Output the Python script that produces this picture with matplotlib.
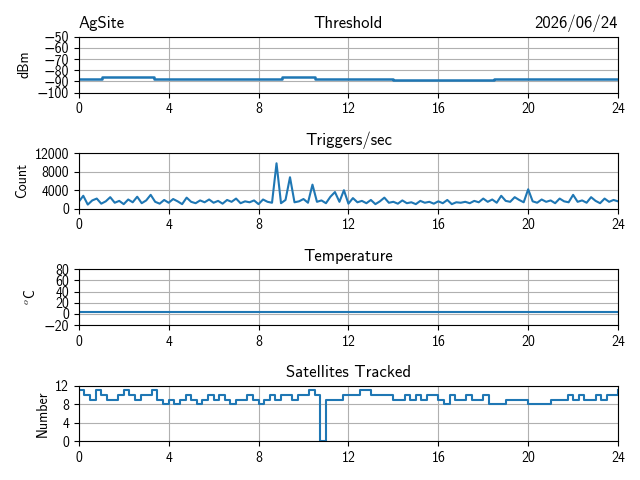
import numpy as np
import matplotlib
matplotlib.use("Agg")
from matplotlib import pyplot as plt

plt.rcParams['font.family'] = ['cmss10', 'DejaVu Sans']
plt.rcParams['mathtext.fontset'] = 'cm'
plt.rcParams['axes.unicode_minus'] = True

# threshold (dBm), hours
thr_t = [0, 1, 1.05, 3.3, 3.35, 6, 9, 9.05, 10.3, 10.5, 11, 14, 18, 18.5, 24]
thr_v = [-88, -88, -86, -86, -88, -88, -88, -86, -86, -88, -88, -89, -89, -88, -88]

# triggers/sec, every 0.2 h
trig = [1500, 2800, 900, 1800, 2200, 1100, 1600, 2500, 1300, 1700, 1000, 2000, 1400, 2600, 1200, 1800,
        3000, 1500, 1100, 1900, 1300, 2100, 1600, 1000, 2400, 1500, 1200, 1800, 1400, 2000,
        1300, 1700, 1100, 1900, 1500, 2200, 1200, 1600, 1400, 1800, 1000, 2000, 1500, 1300, 9800,
        1200, 1900, 6800, 1400, 1600, 2100, 1300, 5200, 1500, 1800, 1200, 2600, 3600, 1500, 4000,
        1100, 2300, 1400, 1700, 1200, 1900, 1000, 1600, 2400, 1300, 1500, 1100, 1800, 1200, 1400,
        1000, 1700, 1300, 1500, 1100, 1600, 1200, 1900, 1000, 1400, 1300, 1500, 1200, 1700, 1400,
        2200, 1500, 2000, 1300, 2800, 1700, 1500, 2500, 1900, 1400, 4200, 1600, 1300, 2000, 1500,
        1800, 1200, 2200, 1600, 1400, 3000, 1500, 1800, 1300, 2500, 1700, 1200, 2200, 1500, 1900, 1600]
trig_t = np.linspace(0, 24, len(trig))

# temperature (C)
temp_t = [0, 24]
temp_v = [3, 3]

# satellites tracked, every 0.25 h
sats = [11, 10, 9, 11, 10, 9, 9, 10, 11, 10, 9, 10, 10, 11, 9, 8, 9, 8, 9, 10, 9, 8, 9, 10,
        9, 10, 9, 8, 9, 9, 10, 9, 8, 9, 10, 9, 10, 10, 9, 10, 10, 11, 10, 0, 9, 9, 9, 10, 10,
        10, 11, 11, 10, 10, 10, 10, 9, 9, 10, 9, 10, 9, 10, 10, 9, 8, 10, 9, 9, 10, 9, 9, 10, 8,
        8, 8, 9, 9, 9, 9, 8, 8, 8, 8, 9, 9, 9, 10, 9, 10, 9, 9, 10, 9, 10, 10, 11]
sats_t = np.linspace(0, 24, len(sats))

c = '#1f77b4'
xt = [0, 4, 8, 12, 16, 20, 24]
fig, axs = plt.subplots(4, 1, figsize=(6.4, 4.8))

ax = axs[0]
ax.step(thr_t, thr_v, where='post', color=c, lw=1.8)
ax.set_ylim(-100, -50)
ax.set_yticks([-100, -90, -80, -70, -60, -50])
ax.set_ylabel('dBm')
ax.set_title('Threshold')
ax.set_title('AgSite', loc='left')
ax.set_title('2026/06/24', loc='right')

ax = axs[1]
ax.plot(trig_t, trig, color=c, lw=1.5)
ax.set_ylim(0, 12000)
ax.set_yticks([0, 4000, 8000, 12000])
ax.set_ylabel('Count')
ax.set_title('Triggers/sec')

ax = axs[2]
ax.plot(temp_t, temp_v, color=c, lw=1.5)
ax.set_ylim(-20, 80)
ax.set_yticks([-20, 0, 20, 40, 60, 80])
ax.set_ylabel(r'$^o$C')
ax.set_title('Temperature')

ax = axs[3]
ax.step(sats_t, sats, where='post', color=c, lw=1.5)
ax.set_ylim(0, 12)
ax.set_yticks([0, 4, 8, 12])
ax.set_ylabel('Number')
ax.set_title('Satellites Tracked')

for ax in axs:
    ax.set_xlim(0, 24)
    ax.set_xticks(xt)
    ax.grid(True)

fig.tight_layout()
fig.savefig('out.png', dpi=100)
